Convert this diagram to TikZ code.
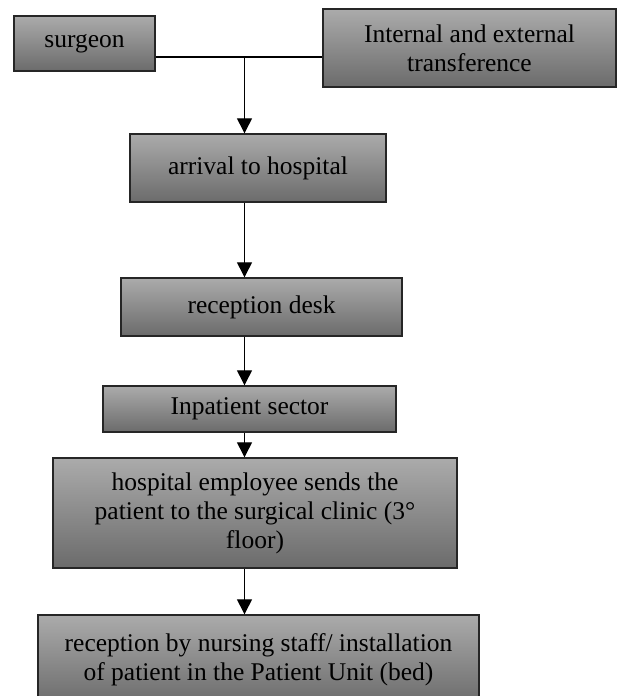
\documentclass[tikz,border=0pt]{standalone}
\usepackage{fontspec}
\setmainfont{Liberation Serif}
\usepackage{tikz}
\usetikzlibrary{calc}
\usetikzlibrary{positioning}
\usetikzlibrary{arrows.meta}
\usepackage{xcolor}

\begin{document}
\begin{tikzpicture}[x=1pt, y=1pt,
					>={Triangle[length=15pt, width=15pt]},
					a/.style={rectangle, draw=black!85, line width=1.4pt, top color=black!33, bottom color=black!58, inner sep=0pt, align=center, text=black, font=\fontsize{25.5}{29}\selectfont}
					]
					
					\useasboundingbox (0, 0) rectangle (617, -696);
					
					%Nodes
					\node[a, minimum width=141, minimum height=55] (surgeon)  at (84.5, -43.5) {surgeon};
					\node[a, minimum width=293, minimum height=78] (transfer) at (469.5, -48)   {Internal and external\\transference};
					\node[a, minimum width=256, minimum height=68] (arrival)  at (258, -168)    {arrival to hospital};
					\node[a, minimum width=281, minimum height=58] (desk)     at (261.5, -307)  {reception desk};
					\node[a, minimum width=293, minimum height=46] (sector)   at (249.5, -409)  {Inpatient sector};
					\node[a, minimum width=404, minimum height=110] (employee) at (255, -513)   {hospital employee sends the\\patient to the surgical clinic (3°\\floor)};
					\node[a, minimum width=441, minimum height=90] (unit)     at (258.5, -660)  {reception by nursing staff/ installation\\of patient in the Patient Unit (bed)};
					
					\coordinate (j) at (244.5, -57);
					
					%Lines
					\draw[line width=1.3pt] (surgeon.east |- j) to (transfer.west |- j);
					\draw[->, line width=1.3pt] (j) to (arrival.north -| j);
					\draw[->, line width=1.3pt] (arrival.south -| j) to (desk.north -| j);
					\draw[->, line width=1.3pt] (desk.south -| j) to (sector.north -| j);
					\draw[->, line width=1.3pt] (sector.south -| j) to (employee.north -| j);
					\draw[->, line width=1.3pt] (employee.south -| j) to (unit.north -| j);
				\end{tikzpicture}
\end{document}
